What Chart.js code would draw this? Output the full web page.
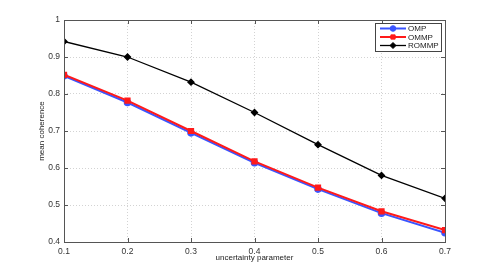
<!DOCTYPE html>
<html><head><meta charset="utf-8">
<script src="https://cdn.jsdelivr.net/npm/chart.js@4/dist/chart.umd.min.js"></script>
<style>html,body{margin:0;padding:0;background:#fff}#wrap{width:491px;height:273px}</style>
</head><body><div id="wrap"><canvas id="c" width="491" height="273"></canvas></div>
<script>
const xValues = [0.1, 0.2, 0.3, 0.4, 0.5, 0.6, 0.7];
const ompValues = [0.849, 0.777, 0.695, 0.614, 0.543, 0.478, 0.425];
const ommpValues = [0.852, 0.782, 0.700, 0.618, 0.547, 0.483, 0.432];
const rommpValues = [0.942, 0.900, 0.832, 0.750, 0.663, 0.580, 0.518];
const seriesNames = ['OMP', 'OMMP', 'ROMMP'];
const xTitle = 'uncertainty parameter';
const yTitle = 'mean coherence';

const FONT = '"Liberation Sans", Arial, sans-serif';
const pts = v => v.map((y, i) => ({x: xValues[i], y}));

const frame = {
  id: 'frame',
  afterDatasetsDraw(chart) {
    const {ctx, chartArea: a, scales: {x, y}} = chart;
    ctx.save();
    ctx.strokeStyle = '#555';
    ctx.lineWidth = 1;
    ctx.strokeRect(Math.round(a.left) + 0.5, Math.round(a.top) + 0.5, Math.round(a.right - a.left), Math.round(a.bottom - a.top));
    ctx.beginPath();
    x.ticks.forEach(t => {
      const px = Math.round(x.getPixelForValue(t.value)) + 0.5;
      ctx.moveTo(px, a.bottom); ctx.lineTo(px, a.bottom - 4);
      ctx.moveTo(px, a.top); ctx.lineTo(px, a.top + 4);
    });
    y.ticks.forEach(t => {
      const py = Math.round(y.getPixelForValue(t.value)) + 0.5;
      ctx.moveTo(a.left, py); ctx.lineTo(a.left + 4, py);
      ctx.moveTo(a.right, py); ctx.lineTo(a.right - 4, py);
    });
    ctx.stroke();
    // legend
    const lx = 375, ly = 23, lw = 66, lh = 28;
    ctx.fillStyle = '#fff';
    ctx.fillRect(lx, ly, lw, lh);
    ctx.strokeStyle = '#444';
    ctx.strokeRect(lx + 0.5, ly + 0.5, lw, lh);
    chart.data.datasets.forEach((ds, i) => {
      const cy = ly + 5.5 + i * 8.5;
      ctx.strokeStyle = ds.borderColor;
      ctx.lineWidth = ds.borderWidth;
      ctx.beginPath(); ctx.moveTo(lx + 5, cy); ctx.lineTo(lx + 31, cy); ctx.stroke();
      ctx.fillStyle = ds.pointBackgroundColor;
      ctx.lineWidth = 1;
      Chart.helpers.drawPoint(ctx, {pointStyle: ds.pointStyle, radius: ds.pointRadius, borderWidth: 1}, lx + 18, cy);
      ctx.fillStyle = '#222';
      ctx.font = '8px ' + FONT;
      ctx.textBaseline = 'middle';
      ctx.textAlign = 'left';
      ctx.fillText(seriesNames[i], lx + 33, cy + 0.5);
    });
    ctx.restore();
  }
};

new Chart(document.getElementById('c'), {
  type: 'line',
  data: {
    datasets: [
      {label: seriesNames[0], data: pts(ompValues), borderColor: '#3a55ff', backgroundColor: '#3a55ff', pointBackgroundColor: '#3a55ff', borderWidth: 2, pointStyle: 'circle', pointRadius: 2.8, order: 3},
      {label: seriesNames[1], data: pts(ommpValues), borderColor: '#ff1a1a', backgroundColor: '#ff1a1a', pointBackgroundColor: '#ff1a1a', borderWidth: 2, pointStyle: 'rect', pointRadius: 3, order: 2},
      {label: seriesNames[2], data: pts(rommpValues), borderColor: '#000', backgroundColor: '#000', pointBackgroundColor: '#000', borderWidth: 1.3, pointStyle: 'rectRot', pointRadius: 3, order: 1}
    ]
  },
  options: {
    responsive: false,
    animation: false,
    layout: {padding: {top: 20, right: 46, left: 34, bottom: 0}},
    plugins: {legend: {display: false}, tooltip: {enabled: false}},
    elements: {line: {tension: 0}, point: {borderWidth: 1, hoverRadius: 3}},
    scales: {
      x: {
        type: 'linear', min: 0.1, max: 0.7,
        afterFit(s) { s.height = 31; },
        ticks: {stepSize: 0.1, padding: 5, color: '#333', font: {family: FONT, size: 8.5}, callback: v => Number(v).toFixed(1)},
        grid: {color: '#c8c8c8', drawTicks: false, lineWidth: 0.8},
        border: {display: false, dash: [1, 2]},
        title: {display: true, text: xTitle, color: '#222', font: {family: FONT, size: 8}, padding: {top: 0, bottom: 10}}
      },
      y: {
        min: 0.4, max: 1,
        afterFit(s) { s.width = 30; },
        ticks: {stepSize: 0.1, padding: 4, color: '#333', font: {family: FONT, size: 8.5}, callback: v => (Math.abs(v - 1) < 1e-9 ? '1' : Number(v).toFixed(1))},
        grid: {color: '#c8c8c8', drawTicks: false, lineWidth: 0.8},
        border: {display: false, dash: [1, 2]},
        title: {display: true, text: yTitle, color: '#222', font: {family: FONT, size: 8}, padding: {top: 3, bottom: 0}}
      }
    }
  },
  plugins: [frame]
});
</script>
</body></html>
